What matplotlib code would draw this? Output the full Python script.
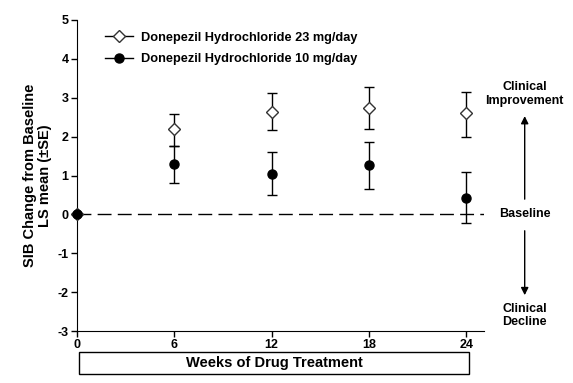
import numpy as np
import matplotlib
matplotlib.use("Agg")
import matplotlib.pyplot as plt
from matplotlib.patches import Rectangle
from matplotlib.lines import Line2D

plt.rcParams['font.family'] = ['Liberation Sans', 'DejaVu Sans']
plt.rcParams['font.weight'] = 'bold'
plt.rcParams['axes.unicode_minus'] = False

weeks = [0, 6, 12, 18, 24]
mean23 = [0, 2.19, 2.64, 2.73, 2.60]
upper23 = [0, 2.59, 3.12, 3.27, 3.16]
lower23 = [0, 1.75, 2.16, 2.19, 1.98]
mean10 = [0, 1.30, 1.04, 1.27, 0.42]
upper10 = [0, 1.75, 1.60, 1.87, 1.08]
lower10 = [0, 0.80, 0.49, 0.66, -0.23]
labels = ["Donepezil Hydrochloride 23 mg/day", "Donepezil Hydrochloride 10 mg/day"]

fig = plt.figure(figsize=(5.73, 3.83), dpi=100)
ax = fig.add_axes([77/573, 52/383, 407/573, 311/383])

w = np.array(weeks)
for m, up, lo, mk, fc in [(mean23, upper23, lower23, 'D', 'white'),
                          (mean10, upper10, lower10, 'o', 'black')]:
    m, up, lo = np.array(m), np.array(up), np.array(lo)
    s = slice(1, None)
    ax.errorbar(w[s], m[s], yerr=[m[s] - lo[s], up[s] - m[s]], fmt='none',
                ecolor='black', elinewidth=1, capsize=3.5, capthick=1, zorder=3)
    ax.plot(w, m, linestyle='none', marker=mk, markersize=6 if mk == 'D' else 6.5,
            markerfacecolor=fc, markeredgecolor='black' if mk == 'o' else '#333333',
            markeredgewidth=1, zorder=4, clip_on=False)

ax.axhline(0, color='black', linestyle=(0, (10, 4.5)), linewidth=1, zorder=2)

ax.set_xlim(0, 25.1)
ax.set_ylim(-3, 5)
ax.set_xticks(weeks)
ax.set_yticks(range(-3, 6))
ax.spines['top'].set_visible(False)
ax.spines['right'].set_visible(False)
ax.tick_params(direction='out', length=4, width=1, labelsize=9, pad=2)
for t in ax.get_xticklabels() + ax.get_yticklabels():
    t.set_fontweight('bold')
ax.set_ylabel("SIB Change from Baseline\nLS mean (\u00b1SE)", fontsize=10.5,
              fontweight='bold', labelpad=4, linespacing=1.1)

handles = [Line2D([], [], color='black', marker='D', markersize=6, markerfacecolor='white',
                  markeredgecolor='#333333', linewidth=1),
           Line2D([], [], color='black', marker='o', markersize=6.5, markerfacecolor='black',
                  linewidth=1)]
ax.legend(handles, labels, loc='upper left', bbox_to_anchor=(0.04, 1.0), frameon=False,
          prop={'size': 9.2, 'weight': 'bold'}, handlelength=2.2, handletextpad=0.6,
          labelspacing=0.75)

# right side annotations
yt = ax.get_yaxis_transform()
ax.text(1.10, 3.1, "Clinical\nImprovement", transform=yt,
        ha='center', va='center', fontsize=9, fontweight='bold', linespacing=1.2,
        clip_on=False)
ax.text(1.10, 0.0, "Baseline", transform=yt,
        ha='center', va='center', fontsize=9, fontweight='bold', clip_on=False)
ax.text(1.10, -2.6, "Clinical\nDecline", transform=yt,
        ha='center', va='center', fontsize=9, fontweight='bold', linespacing=1.2,
        clip_on=False)
ax.annotate("", xy=(1.10, 2.6), xytext=(1.10, 0.32), xycoords=yt,
            arrowprops=dict(arrowstyle='-|>', color='black', lw=1, mutation_scale=11))
ax.annotate("", xy=(1.10, -2.15), xytext=(1.10, -0.35), xycoords=yt,
            arrowprops=dict(arrowstyle='-|>', color='black', lw=1, mutation_scale=11))

# boxed x-axis title
fig.patches.append(Rectangle((79/573, 9/383), 390/573, 22/383, transform=fig.transFigure,
                             fill=False, edgecolor='black', linewidth=1))
fig.text((79 + 195)/573, 20/383, "Weeks of Drug Treatment", ha='center', va='center',
         fontsize=10.5, fontweight='bold')

fig.savefig("out.png", dpi=100)
